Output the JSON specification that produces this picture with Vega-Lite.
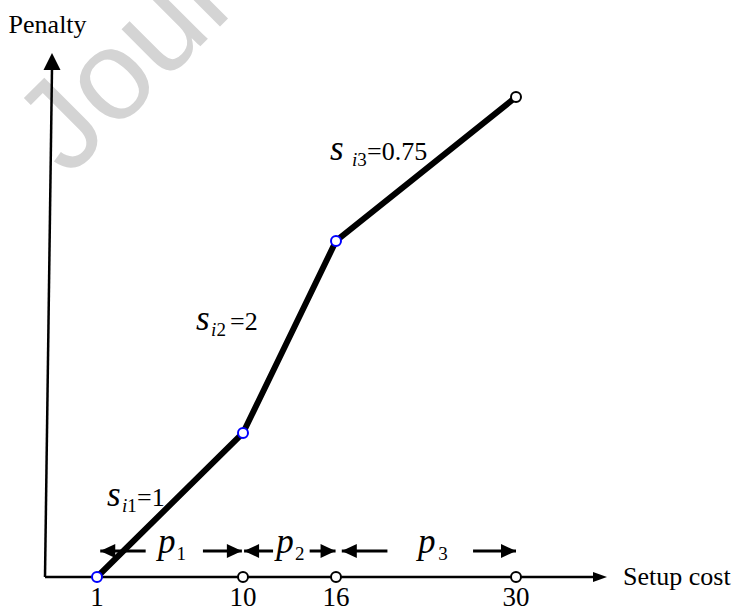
{
  "$schema": "https://vega.github.io/schema/vega-lite/v6.json",
  "autosize": "none",
  "padding": 0,
  "width": 734,
  "height": 612,
  "background": "white",
  "config": {"view": {"stroke": null}},
  "datasets": {
    "watermark": [{"x": 0.44, "y": 24.9, "t": "Journal Pre-proof"}],
    "axes": [
      {"x": 0, "y": 0, "x2": 0.135, "y2": 31.9},
      {"x": 0, "y": 0, "x2": 34.5, "y2": 0}
    ],
    "yhead": [{"x": 0.135, "y": 32.75}],
    "xhead": [{"x": 35, "y": 0}],
    "curve": [
      {"x": 1, "y": 0},
      {"x": 10, "y": 9},
      {"x": 16, "y": 21},
      {"x": 30, "y": 30}
    ],
    "marks": [{"x": 1}, {"x": 10}, {"x": 16}, {"x": 30}],
    "spans": [
      {"x": 1.2, "x2": 4.0, "y": 1.625, "dir": "left"},
      {"x": 9.93, "x2": 7.53, "y": 1.625, "dir": "right"},
      {"x": 10.07, "x2": 11.94, "y": 1.625, "dir": "left"},
      {"x": 15.97, "x2": 14.3, "y": 1.625, "dir": "right"},
      {"x": 16.45, "x2": 20.0, "y": 1.625, "dir": "left"},
      {"x": 30, "x2": 26.66, "y": 1.625, "dir": "right"}
    ],
    "knots": [
      {"x": 1, "y": 0, "kind": "breakpoint"},
      {"x": 10, "y": 9, "kind": "breakpoint"},
      {"x": 16, "y": 21, "kind": "breakpoint"},
      {"x": 30, "y": 30, "kind": "other"},
      {"x": 10, "y": 0, "kind": "other"},
      {"x": 16, "y": 0, "kind": "other"},
      {"x": 30, "y": 0, "kind": "other"}
    ],
    "vars": [
      {"x": 1.62, "y": 4.44, "t": "s"},
      {"x": 7.1, "y": 15.44, "t": "s"},
      {"x": 15.61, "y": 26.06, "t": "s"},
      {"x": 4.76, "y": 1.5, "t": "p"},
      {"x": 12.15, "y": 1.5, "t": "p"},
      {"x": 22.38, "y": 1.5, "t": "p"}
    ],
    "subi": [
      {"x": 2.54, "y": 4.06, "t": "i"},
      {"x": 8.03, "y": 15.06, "t": "i"},
      {"x": 17.24, "y": 25.69, "t": "i"}
    ],
    "subd": [
      {"x": 2.87, "y": 4.06, "t": "1"},
      {"x": 8.36, "y": 15.06, "t": "2"},
      {"x": 17.65, "y": 25.69, "t": "3"},
      {"x": 5.9, "y": 1.06, "t": "1"},
      {"x": 13.35, "y": 1.06, "t": "2"},
      {"x": 23.95, "y": 1.06, "t": "3"}
    ],
    "rest": [
      {"x": 3.47, "y": 4.44, "t": "=1"},
      {"x": 9.2, "y": 15.44, "t": "=2"},
      {"x": 18.41, "y": 26.06, "t": "=0.75"}
    ],
    "ticks": [
      {"x": 1, "y": -1.81, "t": "1"},
      {"x": 10, "y": -1.81, "t": "10"},
      {"x": 16, "y": -1.81, "t": "16"},
      {"x": 30, "y": -1.81, "t": "30"}
    ],
    "titles": [
      {"x": 0.05, "y": 34, "t": "Penalty", "a": "c"},
      {"x": 35.88, "y": -0.5, "t": "Setup cost", "a": "l"}
    ]
  },
  "encoding": {
    "x": {"field": "x", "type": "quantitative", "axis": null,
      "scale": {"domain": [0, 1, 10, 16, 30, 35], "range": [45, 97, 243, 336, 516, 607], "nice": false, "zero": false}},
    "y": {"field": "y", "type": "quantitative", "axis": null,
      "scale": {"domain": [0, 30], "range": [577, 97], "nice": false, "zero": false}}
  },
  "layer": [
    {
      "data": {"name": "watermark"},
      "mark": {"type": "text", "font": "Liberation Sans", "fontSize": 128, "angle": -45, "align": "left", "baseline": "alphabetic", "color": "#d4d4d4"},
      "encoding": {"text": {"field": "t"}}
    },
    {
      "data": {"name": "axes"},
      "mark": {"type": "rule", "color": "black", "strokeWidth": 2.5},
      "encoding": {"x2": {"field": "x2"}, "y2": {"field": "y2"}}
    },
    {
      "data": {"name": "yhead"},
      "mark": {"type": "point", "shape": "M0,0L-1,2L1,2Z", "size": 289, "filled": true, "color": "black", "opacity": 1, "strokeWidth": 0}
    },
    {
      "data": {"name": "xhead"},
      "mark": {"type": "point", "shape": "M0,0L-2,-0.7L-2,0.7Z", "size": 196, "filled": true, "color": "black", "opacity": 1, "strokeWidth": 0}
    },
    {
      "data": {"name": "marks"},
      "mark": {"type": "rule", "color": "#ff0000", "strokeWidth": 1.8},
      "encoding": {"y": {"datum": 0}, "y2": {"datum": 3.3}}
    },
    {
      "data": {"name": "spans"},
      "mark": {"type": "rule", "color": "black", "strokeWidth": 3},
      "encoding": {"x2": {"field": "x2"}}
    },
    {
      "data": {"name": "spans"},
      "transform": [{"filter": "datum.dir === 'left'"}],
      "mark": {"type": "point", "shape": "M0,0L2,-0.93L2,0.93Z", "size": 225, "filled": true, "color": "black", "opacity": 1, "strokeWidth": 0}
    },
    {
      "data": {"name": "spans"},
      "transform": [{"filter": "datum.dir === 'right'"}],
      "mark": {"type": "point", "shape": "M0,0L-2,-0.93L-2,0.93Z", "size": 225, "filled": true, "color": "black", "opacity": 1, "strokeWidth": 0}
    },
    {
      "data": {"name": "curve"},
      "mark": {"type": "line", "color": "black", "strokeWidth": 6, "strokeJoin": "miter", "strokeCap": "butt"}
    },
    {
      "data": {"name": "knots"},
      "mark": {"type": "point", "shape": "circle", "size": 100, "filled": false, "fill": "white", "fillOpacity": 1, "opacity": 1, "strokeWidth": 2},
      "encoding": {
        "stroke": {"field": "kind", "type": "nominal", "legend": null,
          "scale": {"domain": ["breakpoint", "other"], "range": ["#0000ff", "#000000"]}}
      }
    },
    {
      "data": {"name": "vars"},
      "mark": {"type": "text", "font": "Liberation Serif", "fontStyle": "italic", "fontSize": 35, "align": "left", "baseline": "alphabetic", "color": "black"},
      "encoding": {"text": {"field": "t"}}
    },
    {
      "data": {"name": "subi"},
      "mark": {"type": "text", "font": "Liberation Serif", "fontStyle": "italic", "fontSize": 19, "align": "left", "baseline": "alphabetic", "color": "black"},
      "encoding": {"text": {"field": "t"}}
    },
    {
      "data": {"name": "subd"},
      "mark": {"type": "text", "font": "Liberation Serif", "fontSize": 19, "align": "left", "baseline": "alphabetic", "color": "black"},
      "encoding": {"text": {"field": "t"}}
    },
    {
      "data": {"name": "rest"},
      "mark": {"type": "text", "font": "Liberation Serif", "fontSize": 26, "align": "left", "baseline": "alphabetic", "color": "black"},
      "encoding": {"text": {"field": "t"}}
    },
    {
      "data": {"name": "ticks"},
      "mark": {"type": "text", "font": "Liberation Serif", "fontSize": 27, "align": "center", "baseline": "alphabetic", "color": "black"},
      "encoding": {"text": {"field": "t"}}
    },
    {
      "data": {"name": "titles"},
      "transform": [{"filter": "datum.a === 'c'"}],
      "mark": {"type": "text", "font": "Liberation Serif", "fontSize": 26, "align": "center", "baseline": "alphabetic", "color": "black"},
      "encoding": {"text": {"field": "t"}}
    },
    {
      "data": {"name": "titles"},
      "transform": [{"filter": "datum.a === 'l'"}],
      "mark": {"type": "text", "font": "Liberation Serif", "fontSize": 26, "align": "left", "baseline": "alphabetic", "color": "black"},
      "encoding": {"text": {"field": "t"}}
    }
  ]
}
